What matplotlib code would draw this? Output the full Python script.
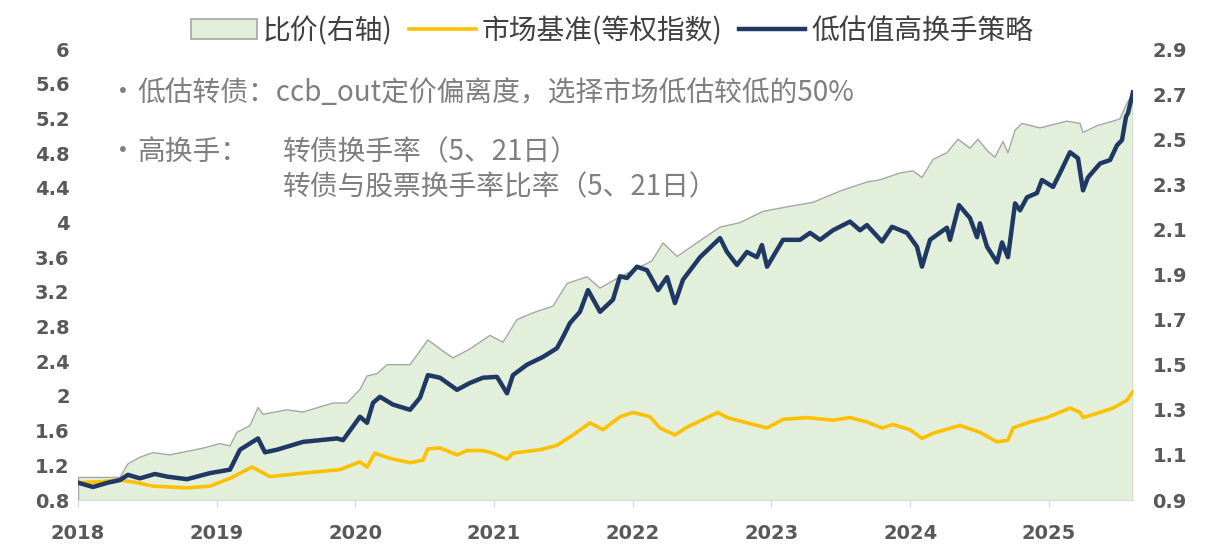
import matplotlib
matplotlib.use('Agg')
import matplotlib.pyplot as plt
from matplotlib.patches import Patch
from matplotlib.lines import Line2D

# ---- data ----
# 低估值高换手策略, left axis
strat_t = [2018.000, 2018.108, 2018.216, 2018.303, 2018.360, 2018.447, 2018.555, 2018.642,
           2018.786, 2018.952, 2019.096, 2019.168, 2019.298, 2019.348, 2019.435, 2019.622,
           2019.867, 2019.911, 2020.033, 2020.084, 2020.127, 2020.177, 2020.271, 2020.394,
           2020.466, 2020.523, 2020.610, 2020.733, 2020.826, 2020.920, 2021.021, 2021.093,
           2021.136, 2021.237, 2021.353, 2021.453, 2021.497, 2021.547, 2021.619, 2021.677,
           2021.764, 2021.857, 2021.908, 2021.958, 2022.030, 2022.102, 2022.182, 2022.247,
           2022.304, 2022.362, 2022.485, 2022.629, 2022.679, 2022.751, 2022.823, 2022.895,
           2022.931, 2022.968, 2023.083, 2023.206, 2023.278, 2023.350, 2023.443, 2023.566,
           2023.638, 2023.688, 2023.797, 2023.869, 2023.977, 2024.049, 2024.085, 2024.143,
           2024.265, 2024.287, 2024.352, 2024.431, 2024.482, 2024.503, 2024.554, 2024.626,
           2024.662, 2024.705, 2024.756, 2024.792, 2024.842, 2024.914, 2024.950, 2025.030,
           2025.080, 2025.152, 2025.210, 2025.246, 2025.282, 2025.369, 2025.441, 2025.491,
           2025.527, 2025.556, 2025.570, 2025.606]
strat = [1.00, 0.95, 1.00, 1.03, 1.09, 1.05, 1.10, 1.07,
         1.04, 1.11, 1.15, 1.38, 1.51, 1.35, 1.38, 1.47,
         1.51, 1.49, 1.76, 1.69, 1.92, 1.99, 1.90, 1.84,
         1.98, 2.24, 2.21, 2.07, 2.15, 2.21, 2.22, 2.03,
         2.24, 2.36, 2.45, 2.55, 2.68, 2.84, 2.97, 3.22,
         2.97, 3.11, 3.38, 3.36, 3.49, 3.45, 3.22, 3.37,
         3.07, 3.34, 3.60, 3.82, 3.66, 3.51, 3.66, 3.60,
         3.74, 3.49, 3.80, 3.80, 3.88, 3.80, 3.91, 4.01,
         3.91, 3.97, 3.78, 3.95, 3.88, 3.72, 3.49, 3.80,
         3.94, 3.80, 4.20, 4.05, 3.83, 3.99, 3.72, 3.54,
         3.77, 3.60, 4.22, 4.14, 4.29, 4.34, 4.49, 4.41,
         4.57, 4.81, 4.74, 4.37, 4.52, 4.68, 4.72, 4.89,
         4.95, 5.22, 5.26, 5.50]

# 市场基准(等权指数), left axis
bench_t = [2018.000, 2018.159, 2018.303, 2018.425, 2018.541, 2018.786, 2018.952, 2019.096,
           2019.255, 2019.384, 2019.622, 2019.889, 2020.033, 2020.084, 2020.141, 2020.249,
           2020.394, 2020.487, 2020.523, 2020.610, 2020.733, 2020.805, 2020.920, 2020.992,
           2021.093, 2021.136, 2021.331, 2021.453, 2021.569, 2021.691, 2021.785, 2021.908,
           2022.001, 2022.124, 2022.196, 2022.304, 2022.391, 2022.535, 2022.614, 2022.679,
           2022.823, 2022.968, 2023.083, 2023.256, 2023.443, 2023.566, 2023.688, 2023.797,
           2023.876, 2023.999, 2024.085, 2024.164, 2024.359, 2024.503, 2024.626, 2024.705,
           2024.741, 2024.864, 2024.986, 2025.152, 2025.224, 2025.246, 2025.347, 2025.462,
           2025.563, 2025.606]
bench = [1.00, 1.01, 1.03, 1.00, 0.96, 0.94, 0.96, 1.05,
         1.18, 1.07, 1.11, 1.15, 1.24, 1.18, 1.34, 1.28,
         1.23, 1.26, 1.39, 1.40, 1.32, 1.37, 1.37, 1.34,
         1.27, 1.34, 1.38, 1.43, 1.55, 1.69, 1.61, 1.76,
         1.81, 1.76, 1.63, 1.55, 1.64, 1.75, 1.81, 1.75,
         1.69, 1.63, 1.73, 1.75, 1.72, 1.75, 1.70, 1.63,
         1.67, 1.61, 1.51, 1.57, 1.66, 1.58, 1.47, 1.49,
         1.63, 1.70, 1.75, 1.86, 1.81, 1.75, 1.80, 1.86,
         1.95, 2.05]

# 比价(右轴), right axis
ratio_t = [2018.000, 2018.303, 2018.360, 2018.447, 2018.541, 2018.663, 2018.901, 2019.024,
           2019.096, 2019.146, 2019.240, 2019.298, 2019.334, 2019.507, 2019.622, 2019.838,
           2019.939, 2020.033, 2020.084, 2020.156, 2020.228, 2020.394, 2020.523, 2020.632,
           2020.704, 2020.826, 2020.970, 2021.064, 2021.165, 2021.280, 2021.425, 2021.526,
           2021.670, 2021.764, 2021.908, 2022.138, 2022.218, 2022.319, 2022.485, 2022.629,
           2022.773, 2022.939, 2023.112, 2023.299, 2023.494, 2023.688, 2023.782, 2023.926,
           2024.020, 2024.085, 2024.164, 2024.265, 2024.345, 2024.431, 2024.489, 2024.554,
           2024.611, 2024.669, 2024.705, 2024.756, 2024.806, 2024.936, 2025.130, 2025.224,
           2025.246, 2025.347, 2025.462, 2025.512, 2025.563, 2025.606]
ratio = [1.00, 1.00, 1.06, 1.09, 1.11, 1.10, 1.13, 1.15,
         1.14, 1.20, 1.23, 1.31, 1.28, 1.30, 1.29, 1.33,
         1.33, 1.39, 1.45, 1.46, 1.50, 1.50, 1.61, 1.56,
         1.53, 1.57, 1.63, 1.60, 1.70, 1.73, 1.76, 1.86,
         1.89, 1.84, 1.89, 1.96, 2.04, 1.98, 2.05, 2.11,
         2.13, 2.18, 2.20, 2.22, 2.27, 2.31, 2.32, 2.35,
         2.36, 2.33, 2.41, 2.44, 2.50, 2.46, 2.50, 2.45,
         2.42, 2.49, 2.44, 2.54, 2.57, 2.55, 2.58, 2.57,
         2.53, 2.56, 2.58, 2.59, 2.66, 2.70]

years = [2018, 2019, 2020, 2021, 2022, 2023, 2024, 2025]
left_ticks = [0.8, 1.2, 1.6, 2, 2.4, 2.8, 3.2, 3.6, 4, 4.4, 4.8, 5.2, 5.6, 6]
right_ticks = [0.9, 1.1, 1.3, 1.5, 1.7, 1.9, 2.1, 2.3, 2.5, 2.7, 2.9]

# ---- style ----
cjk = ['Noto Sans CJK SC', 'DejaVu Sans']
tick_color = '#595959'
fill_color = '#E2EFDA'
gray_line = '#A6A6A6'
navy = '#1F3864'
gold = '#FFC000'

fig = plt.figure(figsize=(12.09, 5.52), dpi=100)
ax1 = fig.add_axes([0.0645, 0.0942, 0.8726, 0.8170])
ax2 = ax1.twinx()

# area (ratio) on the right axis, lines on top on the left axis
ax2.fill_between(ratio_t, 0.9, ratio, color=fill_color, linewidth=0)
ax2.plot(ratio_t, ratio, color=gray_line, lw=1.0)
ax2.vlines(ratio_t[-1], 0.9, ratio[-1], color=gray_line, lw=1.0)
ax2.vlines(ratio_t[0], 0.9, ratio[0], color=gray_line, lw=1.0)

ax1.plot(bench_t, bench, color=gold, lw=2.6)
ax1.plot(strat_t, strat, color=navy, lw=3.2)

ax1.set_zorder(ax2.get_zorder() + 1)
ax1.patch.set_visible(False)

ax1.set_xlim(2018, ratio_t[-1])
ax1.set_ylim(0.8, 6)
ax2.set_ylim(0.9, 2.9)

ax1.set_xticks(years)
ax1.set_xticklabels([str(y) for y in years])
ax1.set_yticks(left_ticks)
ax1.set_yticklabels(['%g' % v for v in left_ticks])
ax2.set_yticks(right_ticks)
ax2.set_yticklabels(['%.1f' % v for v in right_ticks])

for ax in (ax1, ax2):
    for s in ('top', 'left', 'right'):
        ax.spines[s].set_visible(False)
    ax.spines['bottom'].set_color('#D9D9D9')
ax2.spines['bottom'].set_visible(False)

ax1.tick_params(axis='x', length=5, color='#D9D9D9', pad=12, labelsize=14, labelcolor=tick_color)
ax1.tick_params(axis='y', length=0, pad=6, labelsize=14, labelcolor=tick_color)
ax2.tick_params(axis='y', length=0, pad=14, labelsize=14, labelcolor=tick_color)
for lab in ax1.get_xticklabels() + ax1.get_yticklabels() + ax2.get_yticklabels():
    lab.set_fontweight('bold')

# legend across the top
handles = [Patch(facecolor=fill_color, edgecolor=gray_line, linewidth=1.2),
           Line2D([], [], color=gold, lw=2.6),
           Line2D([], [], color=navy, lw=3.2)]
labels = ['比价(右轴)', '市场基准(等权指数)', '低估值高换手策略']
fig.legend(handles, labels, loc='center', bbox_to_anchor=(0.506, 0.944), ncol=3,
           frameon=False, handlelength=2.4, handletextpad=0.2, columnspacing=0.6,
           prop={'family': cjk, 'size': 20}, labelcolor='#404040')

# notes
note_kw = dict(family=cjk, size=20, color='#7F7F7F', va='center')
fig.text(0.090, 0.8315, '•', **note_kw)
fig.text(0.114, 0.8315, '低估转债：ccb_out定价偏离度，选择市场低估较低的50%', **note_kw)
fig.text(0.090, 0.7246, '•', **note_kw)
fig.text(0.114, 0.7246, '高换手：', **note_kw)
fig.text(0.234, 0.7246, '转债换手率（5、21日）', **note_kw)
fig.text(0.234, 0.661, '转债与股票换手率比率（5、21日）', **note_kw)

fig.savefig('out.png', dpi=100)
